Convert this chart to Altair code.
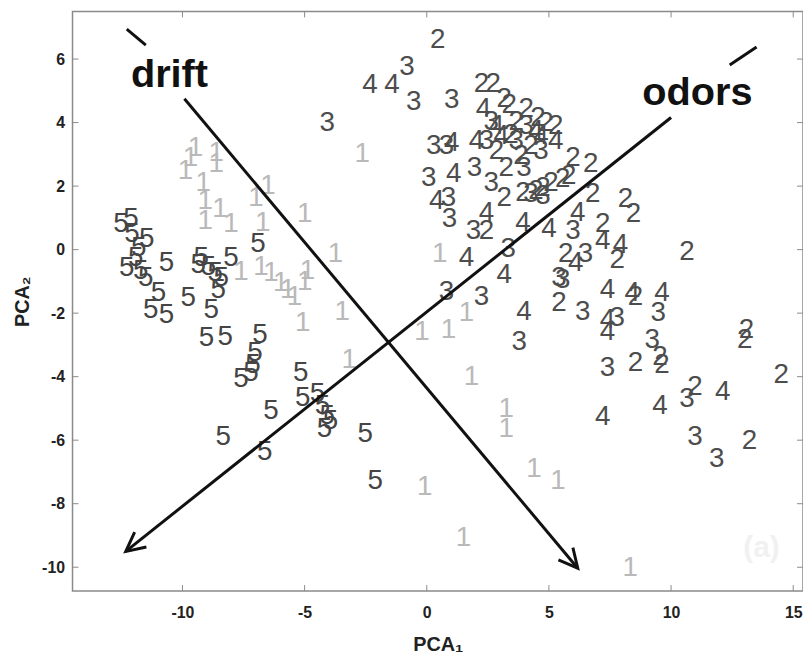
import altair as alt
import pandas as pd

# ---- data (PCA1, PCA2) ----
class1 = [(-9.67, 2.88), (-9.88, 2.47), (-9.47, 3.19), (-8.62, 3.03), (-8.62, 2.69), (-9.15, 2.09),
          (-9.07, 1.53), (-9.07, 0.91), (-8.46, 1.28), (-8.01, 0.81), (-6.50, 2.00), (-6.99, 1.63),
          (-6.71, 0.84), (-5.00, 1.13), (-3.74, -0.13), (-7.60, -0.72), (-6.79, -0.56), (-6.38, -0.75),
          (-5.98, -1.06), (-5.69, -1.28), (-5.41, -1.50), (-4.88, -0.66), (-5.00, -1.03), (-3.46, -1.97),
          (-5.08, -2.31), (-3.17, -3.47), (-2.64, 3.00), (0.53, -0.13), (-0.20, -2.60), (0.89, -2.53),
          (1.63, -2.00), (1.83, -4.00), (3.25, -5.03), (3.25, -5.66), (4.39, -6.91), (5.37, -7.28),
          (-0.08, -7.47), (1.50, -9.09), (8.33, -10.03)]
class2 = [(0.45, 6.59), (2.24, 5.22), (2.72, 5.22), (3.17, 4.75), (3.37, 4.56), (4.07, 4.44),
          (4.55, 4.13), (4.88, 3.97), (5.28, 3.88), (5.98, 2.88), (6.71, 2.69), (3.25, 2.56),
          (3.17, 1.63), (3.94, 1.78), (4.47, 1.84), (4.76, 1.94), (5.08, 2.09), (5.57, 2.22),
          (5.81, 2.31), (6.79, 1.75), (8.13, 1.59), (8.46, 1.13), (7.20, 0.81), (2.44, 0.59),
          (7.80, -0.34), (5.69, -0.13), (10.65, -0.09), (5.41, -1.69), (8.54, -1.50), (8.54, -3.56),
          (9.55, -3.38), (9.63, -3.63), (13.09, -2.53), (13.01, -2.84), (14.51, -3.94), (10.98, -4.34),
          (13.21, -6.03), (3.66, 4.03), (2.85, 3.09), (4.27, 3.25), (3.86, 2.94), (3.45, 3.60)]
class3 = [(-0.81, 5.75), (-0.53, 4.66), (-4.07, 3.97), (1.02, 4.72), (0.28, 3.25), (0.81, 3.25),
          (0.08, 2.25), (1.95, 2.56), (2.64, 2.09), (3.98, 2.56), (0.89, 1.63), (0.93, 0.97),
          (1.91, 0.59), (3.33, 0.03), (0.81, -1.34), (2.24, -1.50), (3.78, -2.91), (5.57, -0.97),
          (6.38, -1.97), (6.50, -0.13), (5.98, 0.59), (4.27, 1.75), (4.76, 1.69), (7.80, -2.16),
          (9.47, -2.00), (9.23, -2.84), (7.40, -3.72), (10.65, -4.72), (10.98, -5.91), (11.87, -6.59),
          (5.41, -0.88), (2.64, 4.03), (2.44, 3.41), (4.07, 3.88), (4.67, 3.09), (3.66, 3.41)]
class4 = [(-2.32, 5.19), (-1.42, 5.19), (2.32, 4.44), (5.28, 3.41), (1.02, 3.34), (1.10, 2.38),
          (0.41, 1.53), (2.44, 1.16), (3.94, 0.84), (5.00, 0.66), (6.18, 1.16), (7.20, 0.28),
          (7.93, 0.13), (1.63, -0.25), (3.17, -0.81), (3.98, -1.97), (6.10, -0.41), (7.40, -1.28),
          (7.40, -2.22), (8.41, -1.38), (9.63, -1.38), (7.40, -2.59), (7.20, -5.28), (9.55, -4.94),
          (12.11, -4.47), (2.85, 3.88), (3.05, 3.56), (4.47, 3.72), (2.03, 3.41), (4.67, 3.56)]
class5 = [(-12.52, 0.81), (-12.11, 0.97), (-12.07, 0.50), (-11.46, 0.34), (-11.79, 0.06), (-11.91, -0.25),
          (-12.28, -0.59), (-11.71, -0.66), (-11.50, -0.91), (-10.65, -0.41), (-10.98, -1.38), (-11.30, -1.91),
          (-10.65, -2.06), (-9.76, -1.53), (-9.23, -0.25), (-9.35, -0.50), (-8.94, -0.56), (-8.66, -0.75),
          (-8.01, -0.25), (-8.41, -0.88), (-8.54, -1.28), (-8.82, -1.91), (-6.91, 0.19), (-9.02, -2.78),
          (-8.25, -2.75), (-6.83, -2.69), (-7.03, -3.25), (-7.11, -3.63), (-7.20, -3.88), (-7.60, -4.09),
          (-5.16, -3.88), (-5.08, -4.66), (-4.47, -4.56), (-4.27, -4.94), (-4.07, -5.25), (-3.94, -5.41),
          (-4.19, -5.66), (-6.38, -5.09), (-8.33, -5.91), (-6.63, -6.38), (-2.52, -5.81), (-2.11, -7.28)]

class_colors = ["#b9b9b9", "#4d4d4d", "#4d4d4d", "#4d4d4d", "#454545"]

# arrows: start -> tip (data units), arrowhead angle in screen degrees
arrow_names = ["drift", "odors"]
arrow_start = [(-9.92, 4.75), (10.0, 4.16)]
arrow_tip = [(6.18, -10.03), (-12.32, -9.5)]
arrow_angle = [50.1, 141.5]
# small dashes beyond the labels
dash_start = [(-12.28, 6.94), (12.4, 5.81)]
dash_end = [(-11.5, 6.44), (13.5, 6.38)]
label_pos = [(-12.11, 5.13), (8.82, 4.56)]

x_ticks = [-10, -5, 0, 5, 10, 15]
y_ticks = [-10, -8, -6, -4, -2, 0, 2, 4, 6]
x_domain = [-14.5, 15.4]
y_domain = [-10.75, 7.5]

W, H = 736, 584
FONT = "Liberation Sans"

rows = []
for k, pts in enumerate([class1, class2, class3, class4, class5]):
    for (x, y) in pts:
        rows.append({"x": x, "y": y, "cls": str(k + 1)})
pts_df = pd.DataFrame(rows)

xs = alt.Scale(domain=x_domain, nice=False, zero=False)
ys = alt.Scale(domain=y_domain, nice=False, zero=False)

digits = alt.Chart(pts_df).mark_text(
    font=FONT, fontSize=28, align="center", baseline="middle"
).encode(
    x=alt.X("x:Q", scale=xs, axis=alt.Axis(values=x_ticks, title="PCA₁", titleY=60,
                                           titleBaseline="alphabetic", labelPadding=14,
                                           labelExpr="'' + datum.value")),
    y=alt.Y("y:Q", scale=ys, axis=alt.Axis(values=y_ticks, title="PCA₂", titleX=-40,
                                           titleBaseline="bottom", labelPadding=8,
                                           labelExpr="'' + datum.value")),
    text="cls:N",
    color=alt.Color("cls:N", scale=alt.Scale(domain=["1", "2", "3", "4", "5"], range=class_colors),
                    legend=None),
)

arrow_df = pd.DataFrame({
    "name": arrow_names,
    "x1": [p[0] for p in arrow_start], "y1": [p[1] for p in arrow_start],
    "x2": [p[0] for p in arrow_tip], "y2": [p[1] for p in arrow_tip],
    "ang": arrow_angle,
    "dx1": [p[0] for p in dash_start], "dy1": [p[1] for p in dash_start],
    "dx2": [p[0] for p in dash_end], "dy2": [p[1] for p in dash_end],
    "lx": [p[0] for p in label_pos], "ly": [p[1] for p in label_pos],
})

shafts = alt.Chart(arrow_df).mark_rule(color="#111", strokeWidth=3).encode(
    x=alt.X("x1:Q", scale=xs), y=alt.Y("y1:Q", scale=ys),
    x2="x2:Q", y2="y2:Q")
dashes = alt.Chart(arrow_df).mark_rule(color="#111", strokeWidth=3).encode(
    x=alt.X("dx1:Q", scale=xs), y=alt.Y("dy1:Q", scale=ys),
    x2="dx2:Q", y2="dy2:Q")
heads = alt.Chart(arrow_df).mark_point(
    shape="M -1 -0.5 L 0 0 L -1 0.5", filled=False, size=1444, strokeWidth=3,
    color="#111", opacity=1, strokeJoin="miter"
).encode(
    x=alt.X("x2:Q", scale=xs), y=alt.Y("y2:Q", scale=ys),
    angle=alt.Angle("ang:Q", scale=None))
labels = alt.Chart(arrow_df).mark_text(
    font=FONT, fontSize=40, fontWeight="bold", align="left", baseline="alphabetic", color="#111"
).encode(
    x=alt.X("lx:Q", scale=xs), y=alt.Y("ly:Q", scale=ys), text="name:N")

mark_a = alt.Chart(pd.DataFrame({"x": [13.7], "y": [-9.4], "t": ["(a)"]})).mark_text(
    font=FONT, fontSize=30, fontWeight="bold", color="#f1f1f1", align="center", baseline="middle"
).encode(x=alt.X("x:Q", scale=xs), y=alt.Y("y:Q", scale=ys), text="t:N")

xt = pd.DataFrame({"v": x_ticks})
yt = pd.DataFrame({"v": y_ticks})
tick_style = dict(color="#8a8a8a", strokeWidth=1)
tb = alt.Chart(xt).mark_rule(**tick_style).encode(
    x=alt.X("v:Q", scale=xs), y=alt.value(H), y2=alt.value(H - 6))
tt = alt.Chart(xt).mark_rule(**tick_style).encode(
    x=alt.X("v:Q", scale=xs), y=alt.value(0), y2=alt.value(6))
tl = alt.Chart(yt).mark_rule(**tick_style).encode(
    y=alt.Y("v:Q", scale=ys), x=alt.value(0), x2=alt.value(6))
tr = alt.Chart(yt).mark_rule(**tick_style).encode(
    y=alt.Y("v:Q", scale=ys), x=alt.value(W), x2=alt.value(W - 6))

chart = alt.layer(digits, mark_a, tb, tt, tl, tr, shafts, dashes, heads, labels).properties(
    width=W, height=H,
    autosize=alt.AutoSizeParams(type="none"),
    padding={"left": 65, "top": 1, "right": 0, "bottom": 64},
    background="white",
).configure_view(
    stroke="#8a8a8a", strokeWidth=1.5
).configure_axis(
    ticks=False, tickSize=0, domain=False, grid=False,
    labelFont=FONT, labelFontSize=16, labelFontWeight="bold", labelColor="#222",
    titleFont=FONT, titleFontSize=20, titleFontWeight="bold", titleColor="#222",
)

chart.save("out.html", embed_options={"renderer": "svg", "actions": False})
